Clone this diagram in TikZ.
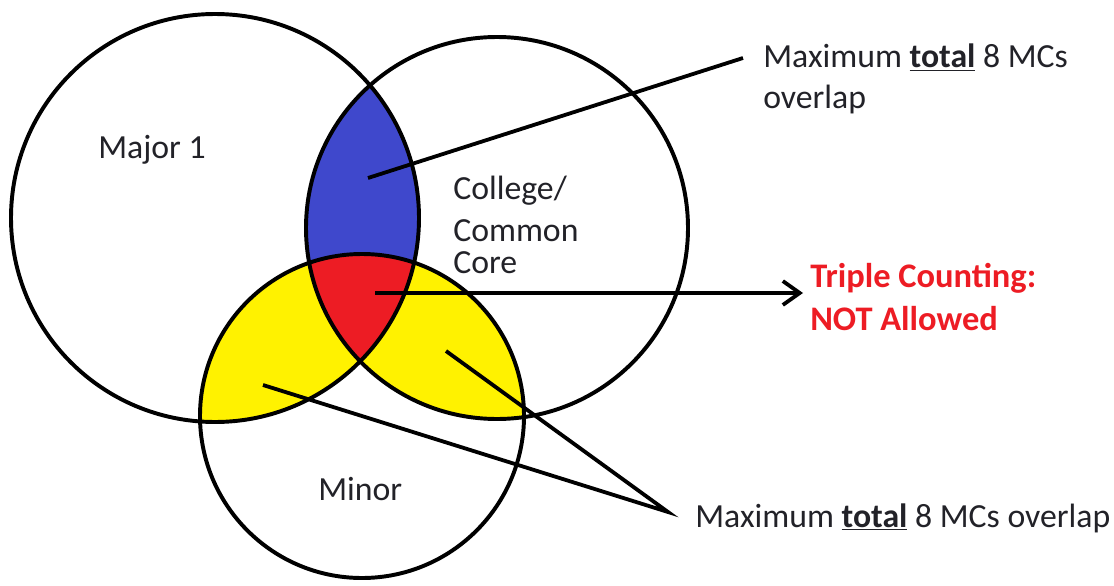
\documentclass[tikz,border=0pt]{standalone}
\usepackage{fontspec}
\setmainfont{Carlito}
\usetikzlibrary{arrows.meta, positioning}
\definecolor{lensblue}{RGB}{63,72,204}
\definecolor{lensred}{RGB}{237,28,36}
\definecolor{lensyellow}{RGB}{255,242,0}
\definecolor{inktext}{RGB}{34,34,40}

\newcommand{\majorpath}{(215,218) circle (204)}
\newcommand{\collegepath}{(497,228) circle (191)}
\newcommand{\minorpath}{(362,416) circle (162)}

\begin{document}
\begin{tikzpicture}[
    x=0.025cm, y=-0.025cm,
    ring/.style={draw=black, line width=2.8pt},
    pointer/.style={draw=black, line width=2.7pt},
    lbl/.style={font=\fontsize{24}{28.5}\selectfont, text=inktext,
                inner sep=0pt, align=left},
    warn/.style={font=\fontsize{24.5}{30}\selectfont\bfseries, text=lensred,
                 inner sep=0pt, align=left}
]
    \useasboundingbox (0,0) rectangle (1114,586);

    % coloured overlaps
    \begin{scope}
        \clip \minorpath;
        \fill[lensyellow] \majorpath;
        \fill[lensyellow] \collegepath;
    \end{scope}
    \begin{scope}
        \clip \majorpath;
        \fill[lensblue] \collegepath;
        \clip \collegepath;
        \fill[lensred] \minorpath;
    \end{scope}

    % the three sets
    \draw[ring] \majorpath;
    \draw[ring] \collegepath;
    \draw[ring] \minorpath;

    % base of a multi-line node is its last line
    \node[lbl, anchor=base west] (major) at (98,158) {Major 1};
    \node[lbl, anchor=base west] (college) at (453,273)
        {College/\\[1pt]Common\\[-6pt]Core};
    \node[lbl, anchor=base west] (minor) at (318,500) {Minor};

    % pointer ends
    \coordinate (bluedot) at (368,178);
    \coordinate (reddot) at (375,293);
    \coordinate (leftdot) at (263,385);
    \coordinate (rightdot) at (446,351);
    \coordinate (topend) at (743,58);
    \coordinate (arrowtip) at (803,293);
    \coordinate (meet) at (668,512);

    \node[lbl, anchor=base west] (topnote) at (763,108)
        {Maximum \underline{\textbf{total}} 8 MCs\\overlap};
    \node[warn, anchor=base west] (triple) at (810,330)
        {Triple Counting:\\NOT Allowed};
    \node[lbl, anchor=base west] (bottomnote) at (695,527)
        {Maximum \underline{\textbf{total}} 8 MCs overlap};

    \draw[pointer] (bluedot) -- (topend);
    \draw[pointer, -{Straight Barb[length=12pt, width=17pt]}] (reddot) -- (arrowtip);
    \draw[pointer] (leftdot) -- (meet) -- (rightdot);
\end{tikzpicture}
\end{document}
